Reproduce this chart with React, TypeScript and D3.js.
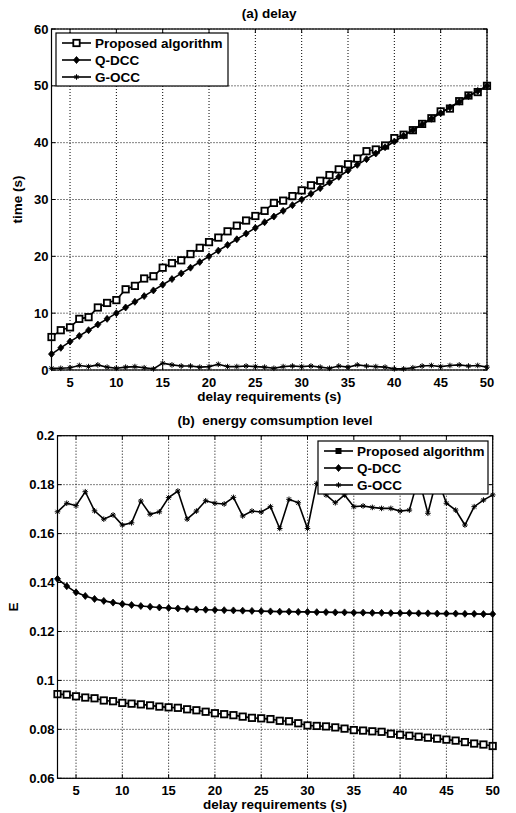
import React from 'react';
import * as d3 from 'd3';

// x categories: delay requirement (s)
const xValues = [3, 4, 5, 6, 7, 8, 9, 10, 11, 12, 13, 14, 15, 16, 17, 18, 19, 20, 21, 22, 23, 24, 25, 26,
  27, 28, 29, 30, 31, 32, 33, 34, 35, 36, 37, 38, 39, 40, 41, 42, 43, 44, 45, 46, 47, 48, 49, 50];

const seriesNames = ['Proposed algorithm', 'Q-DCC', 'G-OCC'];

// (a) delay
const delayProposed = [5.8, 7.0, 7.5, 9.0, 9.3, 11.0, 11.8, 12.3, 14.2, 14.8, 16.1, 16.5, 18.0, 18.8, 19.3, 20.4,
  21.5, 22.5, 23.3, 24.4, 25.4, 26.3, 27.1, 28.0, 29.4, 29.8, 30.6, 31.6, 32.5, 33.3, 34.3, 35.3,
  36.2, 37.2, 38.5, 38.8, 39.5, 40.8, 41.4, 42.2, 43.3, 44.3, 45.5, 46.0, 47.3, 48.3, 48.9, 50.0];
const delayQDCC = [2.8, 3.9, 5.0, 6.0, 7.0, 8.0, 9.0, 10.0, 11.0, 12.0, 13.0, 14.0, 15.0, 16.0, 17.0, 18.0,
  19.0, 20.0, 21.0, 22.0, 23.0, 24.0, 25.0, 26.0, 27.0, 28.0, 29.0, 30.0, 31.0, 32.0, 33.0, 34.0,
  35.1, 36.1, 37.1, 38.1, 39.2, 40.2, 41.2, 42.2, 43.2, 44.2, 45.2, 46.2, 47.2, 48.2, 49.1, 50.0];
const delayGOCC = [0.3, 0.3, 0.4, 0.8, 0.6, 0.9, 0.5, 0.3, 0.5, 0.6, 0.4, 0.2, 1.2, 0.9, 0.7, 0.7,
  0.5, 0.6, 1.0, 0.6, 0.6, 0.7, 0.6, 0.5, 0.3, 0.6, 0.7, 0.6, 0.7, 0.5, 0.3, 0.7,
  0.5, 0.9, 0.7, 0.6, 0.5, 0.2, 0.2, 0.4, 0.7, 0.8, 0.6, 0.8, 0.9, 0.7, 0.8, 0.5];

// (b) energy consumption level
const energyProposed = [0.0944, 0.0942, 0.0935, 0.093, 0.0927, 0.0918, 0.0915, 0.0908, 0.0905, 0.0902, 0.0898, 0.0893,
  0.089, 0.0888, 0.0882, 0.0878, 0.0872, 0.0866, 0.0862, 0.0858, 0.0852, 0.0847, 0.0845, 0.0842,
  0.0835, 0.0833, 0.0825, 0.0816, 0.0814, 0.0812, 0.0808, 0.0803, 0.0797, 0.0795, 0.0792, 0.079,
  0.0782, 0.0778, 0.0774, 0.077, 0.0766, 0.0762, 0.0758, 0.0754, 0.0748, 0.0742, 0.0738, 0.0732];
const energyQDCC = [0.1415, 0.1385, 0.136, 0.1345, 0.1333, 0.1325, 0.1318, 0.1312, 0.1308, 0.1304, 0.1301, 0.1298,
  0.1296, 0.1294, 0.1292, 0.129, 0.1289, 0.1288, 0.1287, 0.1286, 0.1285, 0.1284, 0.1283, 0.1282,
  0.1281, 0.1281, 0.128, 0.128, 0.1279, 0.1279, 0.1278, 0.1278, 0.1277, 0.1277, 0.1276, 0.1276,
  0.1275, 0.1275, 0.1275, 0.1274, 0.1274, 0.1273, 0.1273, 0.1273, 0.1272, 0.1272, 0.1271, 0.1271];
const energyGOCC = [0.1689, 0.1724, 0.1714, 0.1771, 0.1693, 0.1659, 0.1676, 0.1635, 0.1644, 0.1733, 0.1679, 0.1689,
  0.1747, 0.1774, 0.1659, 0.1692, 0.1734, 0.1724, 0.1721, 0.1748, 0.1672, 0.1692, 0.1688, 0.171,
  0.1621, 0.174, 0.1726, 0.1621, 0.1805, 0.1758, 0.1726, 0.1758, 0.171, 0.1713, 0.1707, 0.1703,
  0.1703, 0.1692, 0.1696, 0.183, 0.1683, 0.183, 0.1724, 0.1696, 0.1635, 0.171, 0.1737, 0.1758];

const xTicks = [5, 10, 15, 20, 25, 30, 35, 40, 45, 50];
const delayTicks = [0, 10, 20, 30, 40, 50, 60];
const energyTicks = [0.06, 0.08, 0.1, 0.12, 0.14, 0.16, 0.18, 0.2];

const FONT = 'Liberation Sans, Arial, Helvetica, sans-serif';

type Marker = 'square' | 'diamond' | 'star';
const markers: Marker[] = ['square', 'diamond', 'star'];

function MarkerShape({ type, x, y }: { type: Marker; x: number; y: number }) {
  if (type === 'square') {
    return <rect x={x - 3.2} y={y - 3.2} width={6.4} height={6.4} fill="white" stroke="black" strokeWidth={1.8} />;
  }
  if (type === 'diamond') {
    return <path d={`M${x},${y - 3.5}L${x + 3},${y}L${x},${y + 3.5}L${x - 3},${y}Z`} fill="black" stroke="black" strokeWidth={0.8} />;
  }
  const r = 2.8;
  return (
    <path
      d={`M${x - r},${y}H${x + r}M${x},${y - r}V${y + r}M${x - 2},${y - 2}L${x + 2},${y + 2}M${x - 2},${y + 2}L${x + 2},${y - 2}`}
      stroke="black"
      strokeWidth={1}
      fill="none"
    />
  );
}

interface PanelProps {
  left: number; right: number; top: number; bottom: number;
  yDomain: [number, number];
  yTicks: number[];
  yFormat: (v: number) => string;
  series: number[][];
  title: string;
  ylabel: string;
  ylabelX: number;
  legend: { x: number; y: number; w: number; h: number };
  legendFilledSquare?: boolean;
}

function Panel(p: PanelProps) {
  const x = d3.scaleLinear().domain([3, 50]).range([p.left, p.right]);
  const y = d3.scaleLinear().domain(p.yDomain).range([p.bottom, p.top]);
  const line = d3.line<number>().x((_, i) => x(xValues[i])).y(d => y(d));
  const cx = (p.left + p.right) / 2;
  const tick = 4;

  return (
    <g fontFamily={FONT} fontWeight="bold">
      {/* grid */}
      {xTicks.map(t => (
        <line key={'gx' + t} x1={x(t)} x2={x(t)} y1={p.top} y2={p.bottom} stroke="black" strokeWidth={1} strokeDasharray="1,2" />
      ))}
      {p.yTicks.map(t => (
        <line key={'gy' + t} x1={p.left} x2={p.right} y1={y(t)} y2={y(t)} stroke="black" strokeWidth={1} strokeDasharray="1,2" />
      ))}
      {/* ticks */}
      {xTicks.map(t => (
        <g key={'tx' + t}>
          <line x1={x(t)} x2={x(t)} y1={p.bottom} y2={p.bottom - tick} stroke="black" />
          <line x1={x(t)} x2={x(t)} y1={p.top} y2={p.top + tick} stroke="black" />
          <text x={x(t)} y={p.bottom + 17} textAnchor="middle" fontSize={13}>{t}</text>
        </g>
      ))}
      {p.yTicks.map(t => (
        <g key={'ty' + t}>
          <line x1={p.left} x2={p.left + tick} y1={y(t)} y2={y(t)} stroke="black" />
          <line x1={p.right} x2={p.right - tick} y1={y(t)} y2={y(t)} stroke="black" />
          <text x={p.left - 3} y={y(t) + 4.5} textAnchor="end" fontSize={13}>{p.yFormat(t)}</text>
        </g>
      ))}
      {/* series */}
      {p.series.map((s, si) => (
        <g key={'s' + si}>
          <path d={line(s) || ''} fill="none" stroke="black" strokeWidth={1.6} />
          {s.map((v, i) => (
            <MarkerShape key={i} type={markers[si]} x={x(xValues[i])} y={y(v)} />
          ))}
        </g>
      ))}
      {/* frame */}
      <rect x={p.left} y={p.top} width={p.right - p.left} height={p.bottom - p.top} fill="none" stroke="black" strokeWidth={1.2} />
      {/* labels */}
      <text x={cx} y={p.top - 11} textAnchor="middle" fontSize={13.5} style={{ whiteSpace: 'pre' }}>{p.title}</text>
      <text x={cx} y={p.bottom + 31} textAnchor="middle" fontSize={13.5}>delay requirements (s)</text>
      <text
        transform={`translate(${p.ylabelX},${(p.top + p.bottom) / 2}) rotate(-90)`}
        textAnchor="middle"
        fontSize={13.5}
      >{p.ylabel}</text>
      {/* legend */}
      <g>
        <rect x={p.legend.x} y={p.legend.y} width={p.legend.w} height={p.legend.h} fill="white" stroke="black" strokeWidth={1.2} />
        {seriesNames.map((name, i) => {
          const ly = p.legend.y + 10 + i * 17;
          const lx = p.legend.x + 6;
          return (
            <g key={name}>
              <line x1={lx} x2={lx + 29} y1={ly} y2={ly} stroke="black" strokeWidth={1.6} />
              {i === 0 && p.legendFilledSquare
                ? <rect x={lx + 14.5 - 3} y={ly - 3} width={6} height={6} fill="black" />
                : <MarkerShape type={markers[i]} x={lx + 14.5} y={ly} />}
              <text x={lx + 33} y={ly + 5} fontSize={13.5}>{name}</text>
            </g>
          );
        })}
      </g>
    </g>
  );
}

export default function App() {
  return (
    <svg width={516} height={813} style={{ position: 'absolute', left: 0, top: 0, background: 'white' }}>
      <rect width={516} height={813} fill="white" />
      <Panel
        left={51.5} right={487} top={29} bottom={370}
        yDomain={[0, 60]}
        yTicks={delayTicks}
        yFormat={v => String(v)}
        series={[delayProposed, delayQDCC, delayGOCC]}
        title="(a) delay"
        ylabel="time (s)"
        ylabelX={22}
        legend={{ x: 56, y: 33, w: 172, h: 53 }}
      />
      <Panel
        left={57.5} right={492.7} top={435.7} bottom={778.3}
        yDomain={[0.06, 0.2]}
        yTicks={energyTicks}
        yFormat={v => d3.format('~g')(v)}
        series={[energyProposed, energyQDCC, energyGOCC]}
        title="(b)  energy comsumption level"
        ylabel="E"
        ylabelX={18}
        legend={{ x: 318, y: 441, w: 170, h: 53 }}
        legendFilledSquare
      />
    </svg>
  );
}
